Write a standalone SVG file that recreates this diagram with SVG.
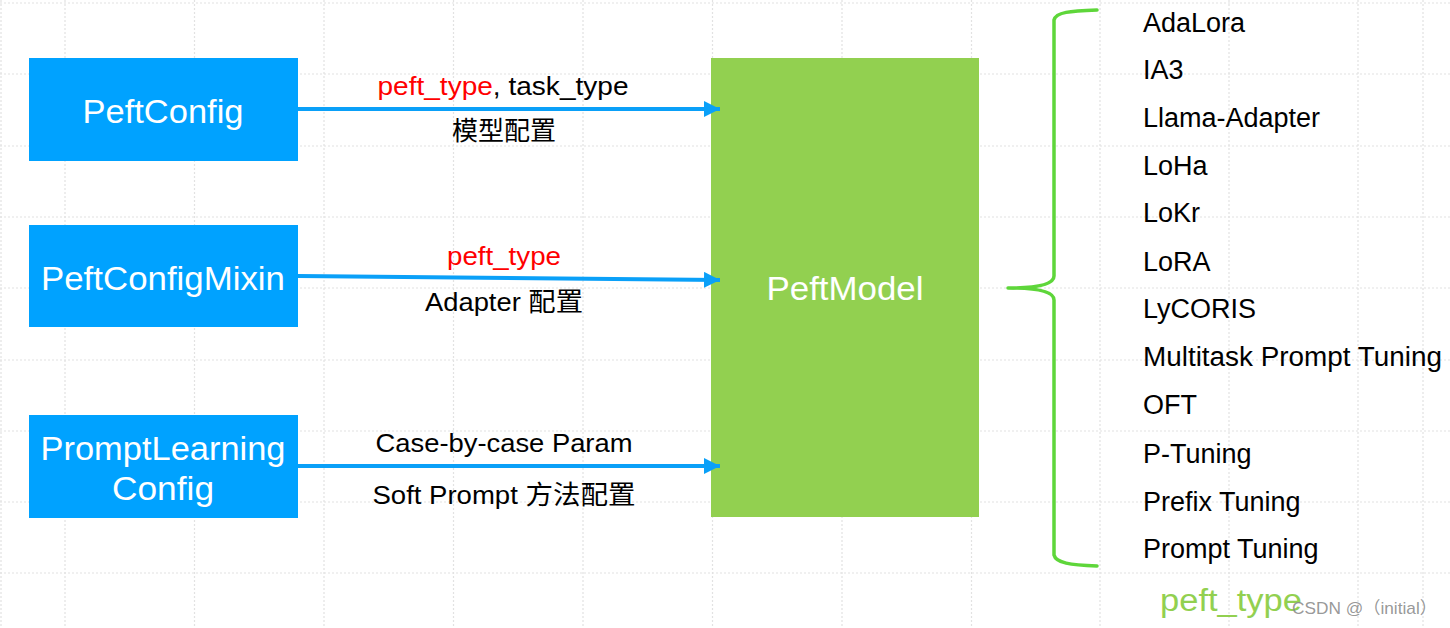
<svg xmlns="http://www.w3.org/2000/svg" width="1450" height="628" viewBox="0 0 1450 628">
<style>
.grid line{stroke:#e2e2e2;stroke-width:1.2;stroke-dasharray:2 2}
.box{fill:#00a2ff}
.model{fill:#92d050}
.wt{font-family:"Liberation Sans",Arial,sans-serif;fill:#ffffff;text-anchor:middle}
.lbl{font-family:"Liberation Sans","Noto Sans CJK SC",sans-serif;font-size:26px;fill:#000000;text-anchor:middle}
.red{fill:#ff0000}
.item{font-family:"Liberation Sans",Arial,sans-serif;font-size:27px;fill:#000000}
.conn{stroke:#0aa0f8;stroke-width:4;fill:none}
</style>
<defs>
<marker id="ah" markerUnits="userSpaceOnUse" markerWidth="18" markerHeight="18" refX="16" refY="8" orient="auto">
<path d="M0,0 L16,8 L0,16 Z" fill="#0aa0f8"/>
</marker>
</defs>
<rect width="1450" height="628" fill="#ffffff"/>
<g class="grid">
<line x1="1" y1="0" x2="1" y2="628"/>
<line x1="65" y1="0" x2="65" y2="628"/>
<line x1="194.5" y1="0" x2="194.5" y2="628"/>
<line x1="324" y1="0" x2="324" y2="628"/>
<line x1="453.5" y1="0" x2="453.5" y2="628"/>
<line x1="583" y1="0" x2="583" y2="628"/>
<line x1="712.5" y1="0" x2="712.5" y2="628"/>
<line x1="842" y1="0" x2="842" y2="628"/>
<line x1="971.5" y1="0" x2="971.5" y2="628"/>
<line x1="1100" y1="0" x2="1100" y2="628"/>
<line x1="1229" y1="0" x2="1229" y2="628"/>
<line x1="1358" y1="0" x2="1358" y2="628"/>
<line x1="1423" y1="0" x2="1423" y2="628"/>
<line x1="0" y1="3" x2="1450" y2="3"/>
<line x1="0" y1="74" x2="1450" y2="74"/>
<line x1="0" y1="146" x2="1450" y2="146"/>
<line x1="0" y1="217" x2="1450" y2="217"/>
<line x1="0" y1="288" x2="1450" y2="288"/>
<line x1="0" y1="360" x2="1450" y2="360"/>
<line x1="0" y1="431" x2="1450" y2="431"/>
<line x1="0" y1="502" x2="1450" y2="502"/>
<line x1="0" y1="573" x2="1450" y2="573"/>
</g>
<g id="peftconfig">
<rect class="box" x="29" y="58" width="269" height="103"/>
<text class="wt" x="163" y="123" font-size="33" textLength="161" lengthAdjust="spacingAndGlyphs">PeftConfig</text>
</g>
<g id="peftconfigmixin">
<rect class="box" x="29" y="225" width="269" height="102"/>
<text class="wt" x="163" y="290" font-size="33" textLength="244" lengthAdjust="spacingAndGlyphs">PeftConfigMixin</text>
</g>
<g id="promptlearningconfig">
<rect class="box" x="29" y="415" width="269" height="103"/>
<text class="wt" x="163" y="460" font-size="33" textLength="245" lengthAdjust="spacingAndGlyphs">PromptLearning</text>
<text class="wt" x="163" y="500" font-size="33" textLength="102" lengthAdjust="spacingAndGlyphs">Config</text>
</g>
<g id="peftmodel">
<rect class="model" x="711" y="58" width="268" height="459"/>
<text class="wt" x="845" y="300" font-size="33" textLength="157" lengthAdjust="spacingAndGlyphs">PeftModel</text>
</g>
<g id="connectors">
<line class="conn" x1="298" y1="109" x2="720" y2="109" marker-end="url(#ah)"/>
<line class="conn" x1="298" y1="276" x2="720" y2="280" marker-end="url(#ah)"/>
<line class="conn" x1="298" y1="466" x2="720" y2="466" marker-end="url(#ah)"/>
</g>
<g id="labels">
<text class="lbl" x="503" y="95" textLength="251" lengthAdjust="spacingAndGlyphs"><tspan class="red">peft_type</tspan>, task_type</text>
<text class="lbl" x="504" y="140" textLength="104" lengthAdjust="spacingAndGlyphs">模型配置</text>
<text class="lbl red" x="504" y="265" textLength="114" lengthAdjust="spacingAndGlyphs">peft_type</text>
<text class="lbl" x="504" y="311" textLength="158" lengthAdjust="spacingAndGlyphs">Adapter 配置</text>
<text class="lbl" x="504" y="452" textLength="257" lengthAdjust="spacingAndGlyphs">Case-by-case Param</text>
<text class="lbl" x="504" y="504" textLength="263" lengthAdjust="spacingAndGlyphs">Soft Prompt 方法配置</text>
</g>
<g id="brace">
<path d="M1097,10 C1070,11 1056,12 1054,20 L1054,276 C1054,286 1030,288 1008,288 C1030,288 1054,290 1054,300 L1054,555 C1056,563 1070,565 1097,566" fill="none" stroke="#5ed63a" stroke-width="3.5" stroke-linecap="round" stroke-linejoin="round"/>
</g>
<g id="methods">
<text class="item" x="1143" y="32">AdaLora</text>
<text class="item" x="1143" y="79">IA3</text>
<text class="item" x="1143" y="127">Llama-Adapter</text>
<text class="item" x="1143" y="175">LoHa</text>
<text class="item" x="1143" y="222">LoKr</text>
<text class="item" x="1143" y="271">LoRA</text>
<text class="item" x="1143" y="318">LyCORIS</text>
<text class="item" x="1143" y="366" textLength="299" lengthAdjust="spacingAndGlyphs">Multitask Prompt Tuning</text>
<text class="item" x="1143" y="414">OFT</text>
<text class="item" x="1143" y="463">P-Tuning</text>
<text class="item" x="1143" y="511">Prefix Tuning</text>
<text class="item" x="1143" y="558">Prompt Tuning</text>
</g>
<g id="peft-type-caption">
<text x="1160" y="611" font-family="Liberation Sans,Arial,sans-serif" font-size="31" fill="#92d050" textLength="142" lengthAdjust="spacingAndGlyphs">peft_type</text>
</g>
<g id="watermark">
<text x="1292" y="614" font-family="Liberation Sans,'Noto Sans CJK SC',sans-serif" font-size="17" fill="#8c8c8c" fill-opacity="0.9" textLength="145" lengthAdjust="spacingAndGlyphs">CSDN @（initial）</text>
</g>
</svg>
